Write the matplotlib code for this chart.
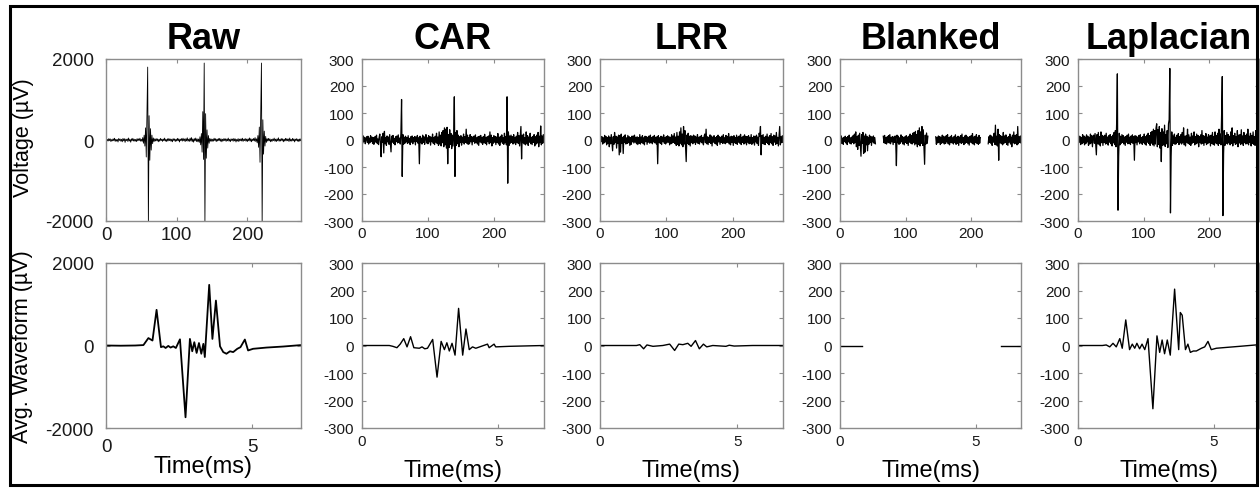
import numpy as np
import matplotlib.pyplot as plt
from matplotlib.patches import Rectangle

plt.rcParams['font.family'] = ['Liberation Sans', 'DejaVu Sans']
plt.rcParams['axes.unicode_minus'] = False

methods = ['Raw', 'CAR', 'LRR', 'Blanked', 'Laplacian']

# continuous traces, one value per ms (uV)
raw_trace = [
    20, -30, 15, -25, 35, -10, 28, -40, 12, -22,
    30, -18, 45, -35, 20, -28, 15, -50, 38, -12,
    25, -30, 18, -45, 40, -20, 33, -60, 22, -15,
    28, -38, 50, -25, 14, -55, 30, -18, 42, -26,
    20, -32, 16, -40, 35, -22, 28, -15, 45, -30,
    18, -35, 60, -80, 120, -150, 300, -420, 720, 1800,
    -2100, 600, -500, 280, -250, 120, -90, 50, -40, 30,
    -25, 35, -20, 28, -45, 18, -30, 40, -15, 22,
    -35, 26, -18, 48, -28, 15, -40, 30, -22, 38,
    -16, 25, -32, 20, -45, 35, -12, 28, -38, 18,
    -25, 42, -20, 30, -50, 22, -15, 35, -28, 45,
    -18, 26, -40, 32, -22, 55, -30, 20, -35, 48,
    -25, 60, -42, 28, -55, 35, -20, 50, -38, 30,
    -45, 25, -60, 80, -120, 160, -300, 700, -480, 1900,
    -2100, 650, -450, 250, -200, 110, -80, 40, -30, 25,
    -38, 20, -28, 45, -15, 32, -40, 22, -25, 35,
    -18, 42, -30, 26, -45, 20, -22, 38, -16, 30,
    -35, 24, -20, 48, -28, 18, -42, 30, -14, 25,
    -32, 40, -22, 28, -50, 16, -26, 35, -40, 22,
    -18, 30, -25, 45, -35, 20, -15, 38, -28, 24,
    -40, 28, -20, 52, -30, 35, -45, 22, -18, 40,
    -25, 60, -38, 30, -70, 110, -180, 320, -550, 760,
    1900, -2100, 500, -350, 220, -150, 90, -60, 35, -28,
    40, -22, 30, -45, 18, -35, 25, -16, 48, -30,
    22, -40, 28, -20, 55, -32, 18, -26, 38, -15,
    30, -45, 20, -28, 42, -22, 35, -18, 26, -38,
    50, -25, 16, -30, 40, -20, 28, -48, 22, -15,
    35, -28, 18, -40, 25, -20, 30,
]
car_trace = [
    8, -12, 15, -6, 10, -14, 5, 12, -9, 14,
    -15, 7, -10, 16, -5, 11, -13, 9, -16, 6,
    13, -8, 18, -12, 4, -17, 10, 22, -11, -62,
    12, -9, 25, -48, 32, -14, 8, -20, 15, -7,
    11, -16, 20, -10, -44, 14, -8, 17, -13, 6,
    -18, 12, -6, 15, -11, 19, -9, 7, -15, 24,
    150, -135, 20, -16, 10, -12, 14, -7, 9, -13,
    16, -10, 6, -17, 12, -8, 15, -14, 9, -6,
    13, -18, 11, -5, 17, -12, 8, -88, 14, -10,
    7, -15, 18, -9, 12, -16, 5, 20, -11, 8,
    -14, 16, -7, 13, -19, 10, -6, 22, -12, 9,
    -17, 14, -8, 25, -13, 11, -20, 30, -15, 18,
    -22, 28, -10, 35, -25, 45, -18, 40, -30, 47,
    -88, 20, -28, 38, -16, 24, -32, 18, -22, 15,
    160, -135, 28, -20, 35, -14, 18, -25, 12, -10,
    16, -19, 10, -8, 22, -15, 12, -9, 40, -12,
    18, -16, 9, -14, 20, -7, 13, -18, 11, -6,
    15, -12, 19, -9, 8, -15, 12, -20, 14, -7,
    17, -11, 9, -16, 13, -8, 21, -13, 10, -18,
    12, -6, 15, -14, 30, -10, 18, -22, 9, -12,
    16, -8, 13, -17, 11, -9, 24, -15, 10, -20,
    14, -7, 19, -12, 8, -16, 25, -10, 13, -18,
    160, -160, 30, -20, 15, -12, 18, -9, 12, -15,
    20, -11, 9, -17, 14, -8, 28, -13, 16, -22,
    12, 50, -70, 18, -10, 22, -15, 9, -18, 30,
    -12, 16, -20, 11, -8, 25, -14, 10, -17, 13,
    -9, 20, -22, 12, -15, 18, -11, 28, -25, 14,
    -10, 52, -18, 15, -12, 20, -9,
]
lrr_trace = [
    -10, 14, -6, 12, -15, 8, -11, 17, -7, 13,
    -18, 9, -12, 15, -25, 10, -14, 20, -9, -40,
    12, -16, 28, -8, 14, -30, 11, -13, 18, -55,
    16, -45, 22, -12, 10, -50, 14, -9, 19, -15,
    8, -13, 17, -10, 12, -20, 9, -16, 14, -7,
    15, -11, 18, -8, 10, -14, 12, -17, 9, -12,
    20, -15, 11, -9, 16, -13, 8, -18, 14, -6,
    12, -16, 10, -8, 15, -12, 18, -10, 9, -14,
    13, -7, 17, -11, 10, -15, 12, -88, 16, -9,
    8, -13, 14, -17, 11, -6, 19, -12, 9, -15,
    13, -10, 16, -8, 12, -18, 10, -14, 20, -11,
    15, -9, 24, -13, 11, -20, 28, -16, 14, -22,
    30, -12, 45, -18, 22, -25, 50, -15, 35, -20,
    -80, 18, -12, 25, -17, 14, -22, 16, -10, 12,
    -14, 18, -9, 15, -16, 11, -8, 20, -13, 10,
    -15, 13, -7, 17, -11, 9, -18, 14, 22, -10,
    40, -14, 12, -17, 10, -9, 19, -13, 15, -22,
    11, -8, 16, -12, 9, -15, 13, -20, 18, -7,
    12, -16, 10, -9, 15, -13, 20, -11, 8, -14,
    17, -10, 13, -8, 24, -15, 11, -18, 14, -9,
    12, -20, 16, -10, 9, -13, 18, -16, 11, -8,
    15, -12, 21, -17, 10, -9, 14, -15, 19, -11,
    13, -18, 12, -8, 16, -14, 10, -12, 20, -16,
    9, -11, 15, -19, 13, -7, 18, -13, 11, -20,
    25, 14, 50, -55, 16, -12, 20, -15, 10, -17,
    14, -9, 22, -13, 11, -18, 16, -10, 24, -14,
    12, -20, 18, -8, 15, -16, 28, -12, 10, -22,
    14, 50, -18, 12, -10, 16, -8,
]
blanked_trace = [
    12, -8, 15, -13, 7, -16, 10, -6, 14, -11,
    9, -17, 13, -7, 18, -12, 8, -15, 11, -9,
    16, -14, 22, -10, 30, -25, 12, -35, 18, -20,
    25, -15, -60, 20, -12, 28, -50, 15, -45, 22,
    -18, 14, -40, 10, -16, 18, -9, 13, -20, 11,
    -7, 15, -12, 9, -14, 0, 0, 0, 0, 0,
    0, 0, 0, 0, 0, 0, 14, -10, 17, -13,
    9, -15, 12, -8, 16, -11, 20, -14, 10, -7,
    13, -17, 11, -9, 15, -12, -95, 18, -10, 14,
    -16, 8, -12, 19, -7, 13, -15, 10, -18, 12,
    -9, 16, -13, 11, -20, 14, -8, 22, -12, 17,
    -15, 25, -10, 28, -18, 32, -14, 20, -25, 35,
    -16, 45, -22, 30, -12, 50, -20, 38, -30, -90,
    18, -15, 26, -12, 14, 0, 0, 0, 0, 0,
    0, 0, 0, 0, 0, 0, 12, -16, 9, -11,
    15, -8, 13, -17, 10, -12, 18, -9, 14, -15,
    11, -13, 16, -7, 20, -14, 9, -18, 12, -10,
    17, -11, 8, -15, 13, -9, 19, -16, 10, -12,
    14, -20, 11, -8, 16, -13, 22, -10, 9, -17,
    15, -12, 18, -9, 12, -14, 10, -19, 13, -8,
    16, -11, 24, -15, 11, -18, 14, -9, 20, -13,
    10, -16, 17, -12, 9, 0, 0, 0, 0, 0,
    0, 0, 0, 0, 0, 0, -14, 12, -9, 18,
    -12, 15, -20, 11, -8, 25, -16, 55, -18, 14,
    -22, 40, -75, 20, -10, 16, -14, 12, -18, 28,
    -12, 15, -9, 19, -16, 10, -20, 13, -8, 22,
    -15, 11, -25, 18, -10, 30, -14, 16, -12, 20,
    -18, 50, -14, 12, -9, 15, -11,
]
blank_windows = [(55, 65), (135, 145), (215, 225)]  # ms, removed around stim
lap_trace = [
    -12, 16, -8, 13, -17, 9, -14, 20, -10, 15,
    -18, 11, -13, 19, -7, 14, -20, 10, -15, 22,
    -11, 16, -25, 13, 18, -12, 24, -18, -55, 20,
    -14, 28, -16, 12, -22, 30, -10, 17, -20, 14,
    -9, 18, -15, 25, -13, 11, -19, 16, -8, 20,
    -14, 12, -22, 18, -11, 28, -17, 35, -25, 70,
    245, -260, -60, 25, -18, 14, -12, 20, -9, 16,
    -15, 11, -20, 13, -8, 18, -14, 22, -12, 10,
    -17, 15, -9, 19, -13, 12, -75, 16, -10, 14,
    -18, 11, -7, 17, -14, 20, -11, 9, -16, 13,
    -10, 22, -15, 12, -19, 18, -8, 25, -13, 16,
    -20, 28, -12, 32, -18, 40, -22, 35, -15, 45,
    60, -25, 38, -16, 50, -30, 28, -80, 42, -20,
    30, -18, 55, -24, 20, -14, 35, -28, 60, 75,
    265, -270, -60, 30, -20, 15, -12, 22, -16, 10,
    -14, 18, -9, 24, -17, 12, -11, 20, -15, 28,
    -10, 45, -18, 14, -22, 16, -8, 40, -13, 19,
    -16, 11, -20, 25, -12, 15, -9, 30, -18, 13,
    -14, 22, -11, 17, -25, 12, -8, 19, -15, 35,
    -12, 16, -20, 14, -10, 24, -17, 11, -13, 20,
    -9, 15, -22, 18, -12, 28, -16, 13, -19, 30,
    -11, 17, -14, 25, -20, 40, -13, 22, -18, 95,
    235, -280, -50, 35, -20, 16, -12, 28, -15, 20,
    -10, 14, -18, 30, -13, 45, -22, 16, -9, 25,
    -16, 12, -14, 35, -25, 18, -11, 20, -17, 38,
    -13, 15, -20, 28, -10, 16, -15, 22, -12, 40,
    -18, 14, -9, 25, -22, 17, -13, 30, -16, 12,
    -20, 35, -14, 18, -10, 22, -12,
]

# averaged waveforms (time in ms, value in uV)
raw_wave_t = [0, 0.5, 1.0, 1.28, 1.45, 1.59, 1.73, 1.88, 1.96, 2.04, 2.13, 2.21,
              2.30, 2.39, 2.53, 2.72, 2.87, 2.95, 3.02, 3.10, 3.18, 3.26, 3.33,
              3.38, 3.53, 3.64, 3.76, 3.90, 4.01, 4.12, 4.24, 4.35, 4.49, 4.60,
              4.75, 4.86, 5.03, 5.49, 6.06, 6.67]
raw_wave = [0, -5, 0, 10, 180, 120, 865, -40, -20, -60, -10, -50,
            -20, -60, 150, -1740, 160, -140, 80, -180, 60, -200, 40,
            -280, 1470, 160, 1090, -20, -160, -200, -140, -160, -80, -40,
            145, -120, -80, -50, -25, 10]
car_wave_t = [0, 1.0, 1.13, 1.28, 1.40, 1.53, 1.65, 1.78, 1.90, 2.10, 2.20, 2.30,
              2.40, 2.59, 2.75, 2.90, 3.02, 3.11, 3.20, 3.30, 3.41, 3.54, 3.69,
              3.81, 3.93, 4.05, 4.17, 4.60, 4.66, 4.84, 4.90, 5.39, 6.67]
car_wave = [0, 0, -3, -8, 5, 25, -5, 32, -8, -10, -5, -12,
            -10, 22, -115, 15, -15, 10, -20, 8, -35, 135, -35,
            60, -15, -5, -10, 5, -8, 5, -5, -3, 0]
lrr_wave_t = [0, 1.0, 1.33, 1.45, 1.59, 1.71, 1.93, 2.29, 2.54, 2.72, 2.87, 3.02,
              3.20, 3.32, 3.48, 3.62, 3.77, 3.89, 4.11, 4.59, 4.71, 4.89, 5.56, 6.67]
lrr_wave = [0, 0, 0, 3, -12, 2, -3, 0, 5, -18, 5, 3,
            8, -3, 18, -12, 5, -5, 0, -3, 1, -2, 0, 0]
blanked_wave_t = [0, 0.8, np.nan, 5.93, 6.67]
blanked_wave = [0, 0, np.nan, 0, 0]
lap_wave_t = [0, 0.9, 1.04, 1.17, 1.29, 1.41, 1.54, 1.63, 1.76, 1.90, 2.00, 2.09,
              2.17, 2.27, 2.36, 2.46, 2.58, 2.76, 2.91, 3.01, 3.10, 3.19, 3.29,
              3.40, 3.56, 3.71, 3.77, 3.84, 3.96, 4.05, 4.14, 4.25, 4.36, 4.55,
              4.67, 4.79, 4.91, 5.10, 5.34, 5.96, 6.67]
lap_wave = [0, 0, 2, -5, 8, -5, 25, -10, 93, -15, 5, -10,
            8, -12, 5, -15, 25, -230, 35, -25, 20, -30, 20,
            -35, 205, -15, 120, 110, -15, 5, -25, -20, -20, -10,
            -5, 15, -15, -10, -8, -3, 3]

traces = [raw_trace, car_trace, lrr_trace, blanked_trace, lap_trace]
waves = [(raw_wave_t, raw_wave), (car_wave_t, car_wave), (lrr_wave_t, lrr_wave),
         (blanked_wave_t, blanked_wave), (lap_wave_t, lap_wave)]

W, H = 1260, 489
fig = plt.figure(figsize=(W / 100, H / 100), dpi=100)

lefts = [106, 362, 600, 840, 1078]
widths = [195, 182, 183, 181, 181]
spine_col = '#8c8c8c'


def style(ax, big):
    for s in ax.spines.values():
        s.set_color(spine_col)
        s.set_linewidth(1.0)
    ax.tick_params(direction='in', length=3, width=0.8, color=spine_col,
                   top=True, right=True, labelcolor='#1a1a1a',
                   labelsize=13.5 if big else 11)


for i, name in enumerate(methods):
    l, w = lefts[i] / W, widths[i] / W
    big = (i == 0)

    # top row: continuous voltage
    ax = fig.add_axes([l, 1 - 222 / H, w, 162 / H])
    y = np.array(traces[i], dtype=float)
    t = np.arange(len(y))
    if name == 'Blanked':
        for lo, hi in blank_windows:
            y[(t >= lo) & (t <= hi)] = np.nan
    ax.plot(t, y, color='black', lw=0.6 if big else 0.9)
    ax.set_xlim(0, 276)
    ax.set_xticks([0, 100, 200])
    if big:
        ax.set_ylim(-2000, 2000)
        ax.set_yticks([-2000, 0, 2000])
    else:
        ax.set_ylim(-300, 300)
        ax.set_yticks(range(-300, 301, 100))
    style(ax, big)
    ax.tick_params(axis='x', pad=3.5)
    ax.tick_params(axis='y', pad=9 if big else 5.5)
    ax.set_title(name, fontsize=26, fontweight='bold', pad=8)

    # bottom row: averaged waveform
    ax2 = fig.add_axes([l, 1 - 429 / H, w, 165 / H])
    wt, wv = waves[i]
    ax2.plot(wt, wv, color='black', lw=1.3 if big else 1.0)
    ax2.set_xlim(0, 6.67)
    ax2.set_xticks([0, 5])
    if big:
        ax2.set_ylim(-2000, 2000)
        ax2.set_yticks([-2000, 0, 2000])
    else:
        ax2.set_ylim(-300, 300)
        ax2.set_yticks(range(-300, 301, 100))
    style(ax2, big)
    ax2.tick_params(axis='x', pad=7 if big else 4.5)
    ax2.tick_params(axis='y', pad=9 if big else 5.5)
    ax2.set_xlabel('Time(ms)', fontsize=17)
    ax2.xaxis.set_label_coords(0.5, -0.165 if big else -0.19)

fig.text(23 / W, 1 - 138 / H, 'Voltage (µV)', rotation=90, fontsize=15.5,
         ha='center', va='center')
fig.text(23 / W, 1 - 347 / H, 'Avg. Waveform (µV)', rotation=90, fontsize=15.5,
         ha='center', va='center')

fig.patches.append(Rectangle((10 / W, 1 - 486 / H), 1247 / W, 479 / H,
                             transform=fig.transFigure, fill=False,
                             edgecolor='black', lw=2.2, zorder=10))

fig.savefig('out.png', dpi=100)
